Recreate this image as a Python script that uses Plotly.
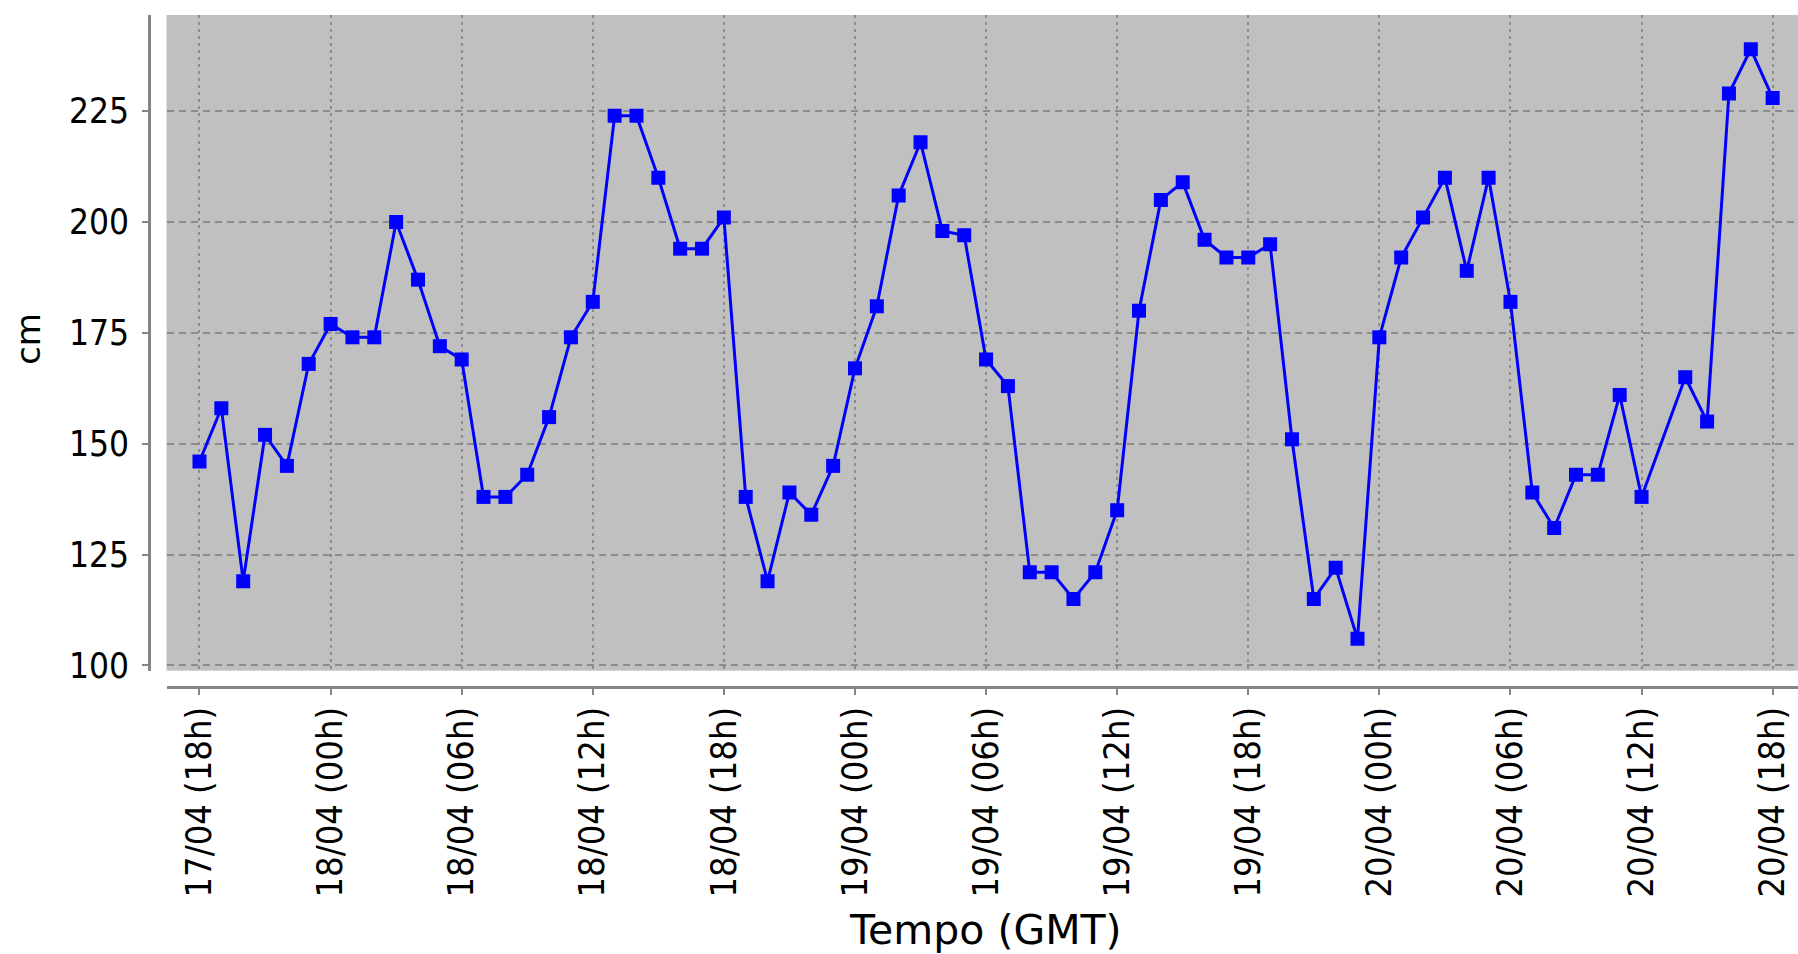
import pandas as pd
import plotly.graph_objects as go

# ---- data (hourly water level, cm) ----
start_time = "2013-04-17 18:00"
n_hours = 73
level_cm = [146, 158, 119, 152, 145, 168, 177, 174, 174, 200,
            187, 172, 169, 138, 138, 143, 156, 174, 182, 224,
            224, 210, 194, 194, 201, 138, 119, 139, 134, 145,
            167, 181, 206, 218, 198, 197, 169, 163, 121, 121,
            115, 121, 135, 180, 205, 209, 196, 192, 192, 195,
            151, 115, 122, 106, 174, 192, 201, 210, 189, 210,
            182, 139, 131, 143, 143, 161, 138, None, 165, 155,
            229, 239, 228]
tick_labels = ["17/04 (18h)", "18/04 (00h)", "18/04 (06h)", "18/04 (12h)",
               "18/04 (18h)", "19/04 (00h)", "19/04 (06h)", "19/04 (12h)",
               "19/04 (18h)", "20/04 (00h)", "20/04 (06h)", "20/04 (12h)",
               "20/04 (18h)"]
y_ticks = [100, 125, 150, 175, 200, 225]
y_title = "cm"
x_title = "Tempo (GMT)"

times = pd.date_range(start_time, periods=n_hours, freq="h")
tick_times = pd.date_range(start_time, periods=len(tick_labels), freq="6h")
t0 = pd.Timestamp(start_time)
x_range = [t0 - pd.Timedelta(hours=1.51), t0 + pd.Timedelta(hours=73.16)]

# target picture size (layout positions below are given in these pixels)
TW, TH = 1798, 954
# the captured page comes out vertically squeezed by ~954/970
W, H = 1798, 970


def px(xs):
    return xs / TW


def py(ys):
    return 1 - ys / TH


FONT = "DejaVu Sans Condensed, DejaVu Sans, sans-serif"
AXIS_GRAY = "#858585"
GRID_GRAY = "#8c8c8c"

fig = go.Figure()
fig.add_trace(go.Scatter(
    x=times, y=level_cm, mode="lines+markers", connectgaps=True,
    line=dict(color="#0000FF", width=3),
    marker=dict(symbol="square", size=14, color="#0000FF",
                line=dict(width=0)),
    showlegend=False, hoverinfo="x+y",
))

fig.update_layout(
    width=W, height=H,
    margin=dict(l=0, r=0, t=0, b=0, pad=0),
    paper_bgcolor="white",
    plot_bgcolor="#C0C0C0",
    font=dict(family=FONT, color="black"),
    xaxis=dict(
        domain=[px(166.5), 1.0],
        anchor="free", position=py(686),
        range=x_range,
        tickmode="array", tickvals=tick_times, ticktext=tick_labels,
        tickangle=-90,
        tickfont=dict(family=FONT, size=36, color="black"),
        ticks="outside", ticklen=7, tickwidth=2, tickcolor=AXIS_GRAY,
        ticklabelstandoff=-3,
        showline=True, linecolor=AXIS_GRAY, linewidth=2.5,
        showgrid=True, gridcolor=GRID_GRAY, gridwidth=1.8,
        griddash="3px,4px",
        zeroline=False,
    ),
    yaxis=dict(
        domain=[py(670), py(15)],
        anchor="free", position=px(149),
        range=[98.8, 246.7],
        tickmode="array", tickvals=y_ticks,
        tickfont=dict(family=FONT, size=35, color="black"),
        ticks="outside", ticklen=6, tickwidth=2, tickcolor=AXIS_GRAY,
        ticklabelstandoff=6,
        showline=True, linecolor=AXIS_GRAY, linewidth=3,
        showgrid=True, gridcolor=GRID_GRAY, gridwidth=1.8,
        griddash="7px,5px",
        zeroline=False,
    ),
    annotations=[
        dict(text=y_title, xref="paper", yref="paper",
             x=px(28.5), y=py(339), xanchor="center", yanchor="middle",
             textangle=-90, showarrow=False,
             font=dict(family="DejaVu Sans, sans-serif", size=34, color="black")),
        dict(text=x_title, xref="paper", yref="paper",
             x=px(985.5), y=py(929), xanchor="center", yanchor="middle",
             showarrow=False,
             font=dict(family="DejaVu Sans, sans-serif", size=41, color="black")),
    ],
)

# remove the default page margin so the figure starts at the window corner
page_css = ("document.documentElement.style.overflow='hidden';"
            "document.body.style.margin='0';"
            "document.body.style.overflow='hidden';")
fig.write_html("out.html", post_script=page_css,
               config={"displayModeBar": False})
